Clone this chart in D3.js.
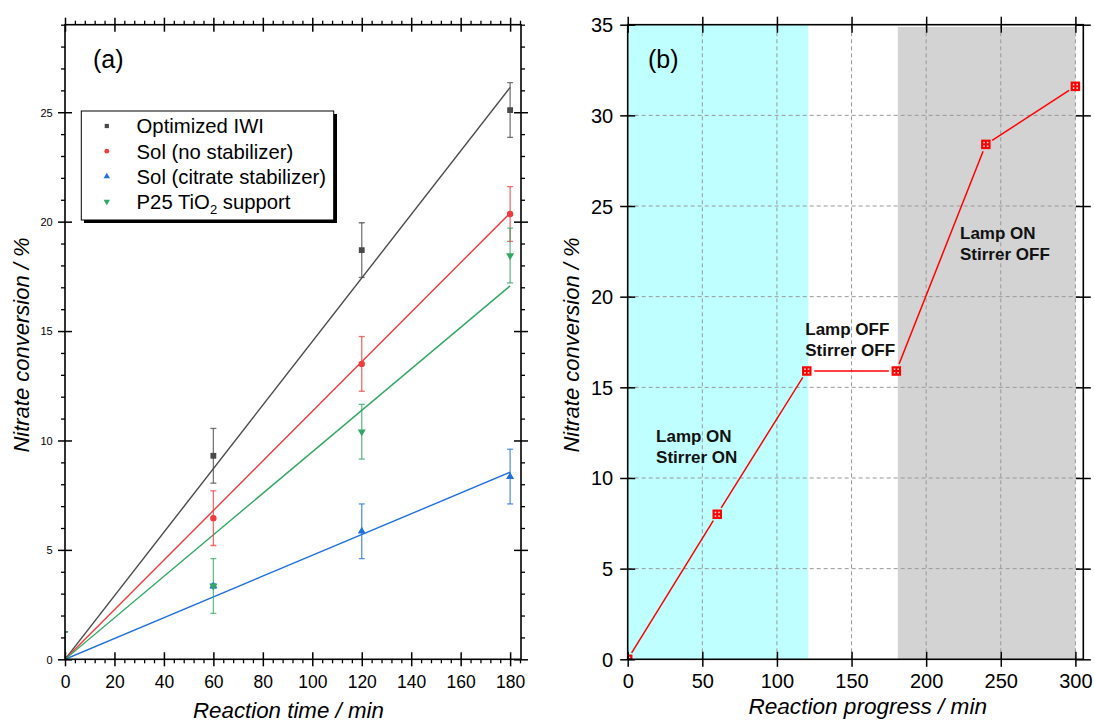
<!DOCTYPE html>
<html>
<head>
<meta charset="utf-8">
<script src="https://cdn.jsdelivr.net/npm/d3@7"></script>
<style>
  html, body { margin: 0; padding: 0; background: #fff; }
  svg { display: block; font-family: "Liberation Sans", Arial, sans-serif; }
</style>
</head>
<body>
<svg id="chart" width="1094" height="722"></svg>
<script>
// ---------------- DATA ----------------
// Panel (a)
const timesA = [0, 60, 120, 180];
const seriesNames = ["Optimized IWI", "Sol (no stabilizer)", "Sol (citrate stabilizer)", "P25 TiO2 support"];
const iwiVals = [0, 9.3, 18.7, 25.1];
const iwiErr = [1.25, 1.25, 1.25, 1.25];
const solNoStabVals = [0, 6.45, 13.5, 20.35];
const solNoStabErr = [1.25, 1.25, 1.25, 1.25];
const solCitrateVals = [0, 3.35, 5.85, 8.35];
const solCitrateErr = [1.25, 0.1, 1.25, 1.25];
const p25Vals = [0, 3.35, 10.4, 18.45];
const p25Err = [1.25, 1.25, 1.25, 1.25];
const fitSlopes = [0.1452, 0.1133, 0.0475, 0.0948];   // linear fits through origin
const fitRange = [0, 180];
const xTicksA = [0, 20, 40, 60, 80, 100, 120, 140, 160, 180];
const yTicksA = [0, 5, 10, 15, 20, 25];

// Panel (b)
const progX = [0, 60, 120, 180, 240, 300];
const progY = [0, 8.0, 15.9, 15.9, 28.4, 31.6];
const cyanRange = [0, 121];
const grayRange = [181, 300];
const xTicksB = [0, 50, 100, 150, 200, 250, 300];
const yTicksB = [0, 5, 10, 15, 20, 25, 30, 35];
const annotations = [
  { lines: ["Lamp ON", "Stirrer ON"], x: 19, y: 12.0 },
  { lines: ["Lamp OFF", "Stirrer OFF"], x: 119, y: 17.9 },
  { lines: ["Lamp ON", "Stirrer OFF"], x: 222.7, y: 23.2 }
];

// ---------------- LAYOUT ----------------
const svg = d3.select("#chart");
const yTop = 24.7, yBot = 659.3;
const A = { l: 65, r: 521 };
const B = { l: 627.7, r: 1083.3 };
const xA = d3.scaleLinear().domain([0, 184.4]).range([A.l, A.r]);
const yA = d3.scaleLinear().domain([0, 29]).range([yBot, yTop]);
const xB = d3.scaleLinear().domain([0, 305.3]).range([B.l, B.r]);
const yB = d3.scaleLinear().domain([0, 35]).range([yBot, yTop]);

const colors = ["#4a4a4a", "#f03c3c", "#2070e0", "#33a866"];
const valsA = [iwiVals, solNoStabVals, solCitrateVals, p25Vals];
const errsA = [iwiErr, solNoStabErr, solCitrateErr, p25Err];
const shapes = ["square", "circle", "up", "down"];

function symbolPath(shape, area) {
  if (shape === "square") return d3.symbol(d3.symbolSquare, area)();
  if (shape === "circle") return d3.symbol(d3.symbolCircle, area)();
  return d3.symbol(d3.symbolTriangle, area)();
}
function symbolTransform(shape, x, y) {
  return shape === "down" ? `translate(${x},${y}) rotate(180)` : `translate(${x},${y})`;
}

// ================= PANEL (a) =================
const defs = svg.append("defs");
defs.append("clipPath").attr("id", "clipA")
  .append("rect").attr("x", A.l).attr("y", yTop).attr("width", A.r - A.l).attr("height", yBot - yTop);
defs.append("clipPath").attr("id", "clipB")
  .append("rect").attr("x", B.l).attr("y", yTop).attr("width", B.r - B.l).attr("height", yBot - yTop);

const gA = svg.append("g");
const plotA = gA.append("g").attr("clip-path", "url(#clipA)");

// fit lines
fitSlopes.forEach((s, i) => {
  plotA.append("line")
    .attr("x1", xA(fitRange[0])).attr("y1", yA(s * fitRange[0]))
    .attr("x2", xA(fitRange[1])).attr("y2", yA(s * fitRange[1]))
    .attr("stroke", colors[i]).attr("stroke-width", 1.4);
});

// error bars + markers
valsA.forEach((vals, i) => {
  const g = plotA.append("g");
  vals.forEach((v, j) => {
    const x = xA(timesA[j]);
    const e = errsA[i][j];
    const eg = g.append("g").attr("stroke", colors[i]).attr("stroke-opacity", 0.75).attr("stroke-width", 1.3);
    eg.append("line").attr("x1", x).attr("x2", x).attr("y1", yA(v - e)).attr("y2", yA(v + e));
    eg.append("line").attr("x1", x - 3).attr("x2", x + 3).attr("y1", yA(v - e)).attr("y2", yA(v - e));
    eg.append("line").attr("x1", x - 3).attr("x2", x + 3).attr("y1", yA(v + e)).attr("y2", yA(v + e));
  });
  g.selectAll("path.m").data(vals).enter().append("path")
    .attr("d", symbolPath(shapes[i], shapes[i] === "square" ? 34 : (shapes[i] === "circle" ? 32 : 28)))
    .attr("transform", (d, j) => symbolTransform(shapes[i], xA(timesA[j]), yA(d)))
    .attr("fill", colors[i]);
});

// axes (a)
function crossTicks(sel, dir, len) {
  sel.select(".domain").remove();
  if (dir === "h") sel.selectAll(".tick line").attr("y1", -len).attr("y2", len);
  else sel.selectAll(".tick line").attr("x1", -len).attr("x2", len);
  sel.selectAll(".tick line").attr("stroke", "#000").attr("stroke-width", 1.5);
}
const minorXA = d3.range(0, 185, 4).filter(v => v % 20 !== 0);
const minorYA = d3.range(0, 30, 1).filter(v => v % 5 !== 0);
const FF = "Liberation Sans, Arial, sans-serif";

// bottom
const bA = gA.append("g").attr("transform", `translate(0,${yBot})`)
  .call(d3.axisBottom(xA).tickValues(xTicksA).tickSize(7).tickFormat(d3.format("d")));
crossTicks(bA, "h", 7);
bA.selectAll(".tick text").attr("y", 28.7).attr("dy", null).attr("font-size", 17.5).attr("fill", "#000")
  .attr("font-family", FF);
const bAm = gA.append("g").attr("transform", `translate(0,${yBot})`)
  .call(d3.axisBottom(xA).tickValues(minorXA).tickSize(4).tickFormat(""));
bAm.select(".domain").remove();
bAm.selectAll("line").attr("stroke", "#000").attr("stroke-width", 1.3);
// top
const tA = gA.append("g").attr("transform", `translate(0,${yTop})`)
  .call(d3.axisTop(xA).tickValues(xTicksA).tickSize(7).tickFormat(""));
crossTicks(tA, "h", 7);
const tAm = gA.append("g").attr("transform", `translate(0,${yTop})`)
  .call(d3.axisTop(xA).tickValues(minorXA).tickSize(4).tickFormat(""));
tAm.select(".domain").remove();
tAm.selectAll("line").attr("stroke", "#000").attr("stroke-width", 1.3);
// left
const lA = gA.append("g").attr("transform", `translate(${A.l},0)`)
  .call(d3.axisLeft(yA).tickValues(yTicksA).tickSize(7).tickFormat(d3.format("d")));
crossTicks(lA, "v", 7);
lA.selectAll(".tick text").attr("x", -12.3).attr("dy", "0.35em").attr("font-size", 11).attr("fill", "#000")
  .attr("font-family", FF);
const lAm = gA.append("g").attr("transform", `translate(${A.l},0)`)
  .call(d3.axisLeft(yA).tickValues(minorYA).tickSize(4).tickFormat(""));
lAm.select(".domain").remove();
lAm.selectAll("line").attr("stroke", "#000").attr("stroke-width", 1.3);
// right
const rA = gA.append("g").attr("transform", `translate(${A.r},0)`)
  .call(d3.axisRight(yA).tickValues(yTicksA).tickSize(7).tickFormat(""));
crossTicks(rA, "v", 7);
const rAm = gA.append("g").attr("transform", `translate(${A.r},0)`)
  .call(d3.axisRight(yA).tickValues(minorYA).tickSize(4).tickFormat(""));
rAm.select(".domain").remove();
rAm.selectAll("line").attr("stroke", "#000").attr("stroke-width", 1.3);
// frame
gA.append("rect").attr("x", A.l).attr("y", yTop).attr("width", A.r - A.l).attr("height", yBot - yTop)
  .attr("fill", "none").attr("stroke", "#000").attr("stroke-width", 1.6);

// labels (a)
gA.append("text").attr("x", 93).attr("y", 68).attr("font-size", 25).text("(a)");
gA.append("text").attr("x", 193).attr("y", 718).attr("font-size", 22.3).attr("font-style", "italic")
  .text("Reaction time / min");
gA.append("text").attr("transform", "translate(29,345) rotate(-90)").attr("text-anchor", "middle")
  .attr("font-size", 22).attr("font-style", "italic").text("Nitrate conversion / %");

// legend (a)
const leg = gA.append("g");
leg.append("rect").attr("x", 84).attr("y", 114).attr("width", 253).attr("height", 109).attr("fill", "#000");
leg.append("rect").attr("x", 81.3).attr("y", 111).attr("width", 252.4).attr("height", 109)
  .attr("fill", "#fff").attr("stroke", "#000").attr("stroke-width", 1);
seriesNames.forEach((name, i) => {
  const yy = 126 + i * 25.2;
  leg.append("path").attr("d", symbolPath(shapes[i], 18))
    .attr("transform", symbolTransform(shapes[i], 106.8, yy)).attr("fill", colors[i]);
  const t = leg.append("text").attr("x", 136.6).attr("y", yy + 7.3).attr("font-size", 20.3);
  if (name === "P25 TiO2 support") {
    t.append("tspan").text("P25 TiO");
    t.append("tspan").attr("font-size", 13).attr("dy", 5).text("2");
    t.append("tspan").attr("dy", -5).text(" support");
  } else {
    t.text(name);
  }
});

// ================= PANEL (b) =================
const gB = svg.append("g");
const plotB = gB.append("g").attr("clip-path", "url(#clipB)");
plotB.append("rect").attr("x", xB(cyanRange[0])).attr("y", yB(35))
  .attr("width", xB(cyanRange[1]) - xB(cyanRange[0])).attr("height", yB(0) - yB(35)).attr("fill", "#c0ffff");
plotB.append("rect").attr("x", xB(grayRange[0])).attr("y", yB(34.88))
  .attr("width", xB(grayRange[1]) - xB(grayRange[0])).attr("height", yB(0) - yB(34.88)).attr("fill", "#d3d3d3");

// grid
const gridG = plotB.append("g").attr("stroke", "#999").attr("stroke-width", 1).attr("stroke-dasharray", "4,3");
xTicksB.filter(v => v > 0).forEach(v => {
  gridG.append("line").attr("x1", xB(v)).attr("x2", xB(v)).attr("y1", yB(0)).attr("y2", yB(35));
});
yTicksB.filter(v => v > 0 && v < 35).forEach(v => {
  gridG.append("line").attr("x1", xB(0)).attr("x2", xB(305.3)).attr("y1", yB(v)).attr("y2", yB(v));
});

// line with gaps
const gap = 7.5;
for (let i = 0; i < progX.length - 1; i++) {
  const x1 = xB(progX[i]), y1 = yB(progY[i]), x2 = xB(progX[i + 1]), y2 = yB(progY[i + 1]);
  const dx = x2 - x1, dy = y2 - y1, L = Math.hypot(dx, dy);
  const ux = dx / L, uy = dy / L;
  plotB.append("line")
    .attr("x1", x1 + ux * gap).attr("y1", y1 + uy * gap)
    .attr("x2", x2 - ux * gap).attr("y2", y2 - uy * gap)
    .attr("stroke", "#ff0000").attr("stroke-width", 1.5);
}
// markers
const ms = 9.5;
progX.forEach((xv, i) => {
  const cx = xB(xv), cy = yB(progY[i]);
  const m = plotB.append("g");
  m.append("rect").attr("x", cx - ms / 2).attr("y", cy - ms / 2).attr("width", ms).attr("height", ms).attr("fill", "#ff0000");
  [[-1, -1], [1, -1], [-1, 1], [1, 1]].forEach(([sx, sy]) => {
    m.append("rect").attr("x", cx + sx * 1.8 - 0.8).attr("y", cy + sy * 1.8 - 0.8)
      .attr("width", 1.6).attr("height", 1.6).attr("fill", "#ffd8d8");
  });
});

// axes (b)
const bB = gB.append("g").attr("transform", `translate(0,${yBot})`)
  .call(d3.axisBottom(xB).tickValues(xTicksB).tickSize(7).tickFormat(d3.format("d")));
crossTicks(bB, "h", 7.5);
bB.selectAll(".tick text").attr("y", 28.7).attr("dy", null).attr("font-size", 20).attr("fill", "#000")
  .attr("font-family", FF);
const tB = gB.append("g").attr("transform", `translate(0,${yTop})`)
  .call(d3.axisTop(xB).tickValues(xTicksB).tickSize(7).tickFormat(""));
crossTicks(tB, "h", 8);
const lB = gB.append("g").attr("transform", `translate(${B.l},0)`)
  .call(d3.axisLeft(yB).tickValues(yTicksB).tickSize(7).tickFormat(d3.format("d")));
crossTicks(lB, "v", 7.5);
lB.selectAll(".tick text").attr("x", -14.5).attr("dy", "0.35em").attr("font-size", 20).attr("fill", "#000")
  .attr("font-family", FF);
const rB = gB.append("g").attr("transform", `translate(${B.r},0)`)
  .call(d3.axisRight(yB).tickValues(yTicksB).tickSize(7).tickFormat(""));
crossTicks(rB, "v", 7.5);
gB.append("rect").attr("x", B.l).attr("y", yTop).attr("width", B.r - B.l).attr("height", yBot - yTop)
  .attr("fill", "none").attr("stroke", "#000").attr("stroke-width", 1.6);

// labels (b)
gB.append("text").attr("x", 648).attr("y", 68).attr("font-size", 25).text("(b)");
gB.append("text").attr("x", 987).attr("y", 714).attr("text-anchor", "end").attr("font-size", 22.6)
  .attr("font-style", "italic").text("Reaction progress / min");
gB.append("text").attr("transform", "translate(579,345) rotate(-90)").attr("text-anchor", "middle")
  .attr("font-size", 22).attr("font-style", "italic").text("Nitrate conversion / %");

annotations.forEach(a => {
  a.lines.forEach((ln, k) => {
    gB.append("text").attr("x", xB(a.x)).attr("y", yB(a.y) + k * 21.5)
      .attr("font-size", 17).attr("font-weight", "bold").attr("fill", "#111").text(ln);
  });
});
</script>
</body>
</html>
